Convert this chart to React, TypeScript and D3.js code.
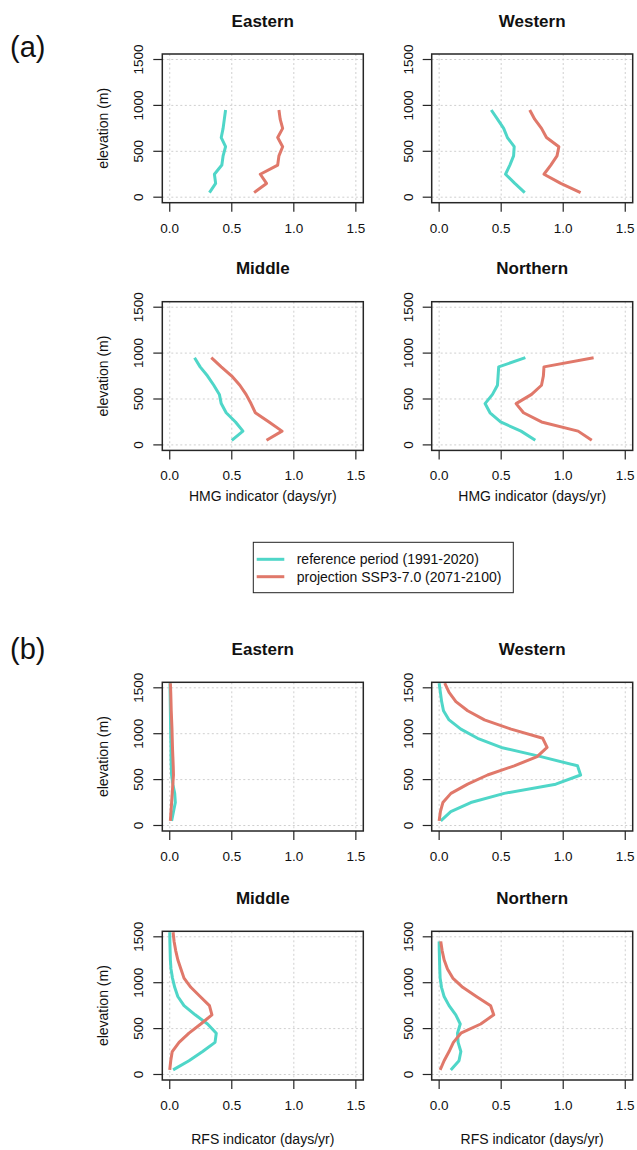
import React from "react";
import * as d3 from "d3";

// ---------- DATA ----------
const elevA = [50, 150, 250, 350, 450, 550, 650, 750, 850, 950];
const elevB = [50, 150, 250, 350, 450, 550, 650, 750, 850, 950, 1050, 1150, 1250, 1350, 1450, 1550];
const elevBNorth = [50, 150, 250, 350, 450, 550, 650, 750, 850, 950, 1050, 1150, 1250, 1350, 1450];

const regions = ["Eastern", "Western", "Middle", "Northern"];

// (a) HMG indicator (days/yr)
const hmgEasternRef = [0.32, 0.37, 0.36, 0.42, 0.43, 0.45, 0.415, 0.43, 0.44, 0.45];
const hmgEasternProj = [0.68, 0.78, 0.73, 0.87, 0.88, 0.91, 0.87, 0.91, 0.89, 0.88];
const hmgWesternRef = [0.69, 0.61, 0.535, 0.57, 0.6, 0.605, 0.55, 0.52, 0.47, 0.42];
const hmgWesternProj = [1.14, 0.98, 0.845, 0.9, 0.95, 0.965, 0.865, 0.825, 0.77, 0.73];
const hmgMiddleRef = [0.5, 0.59, 0.53, 0.455, 0.415, 0.4, 0.355, 0.305, 0.245, 0.2];
const hmgMiddleProj = [0.78, 0.905, 0.8, 0.69, 0.655, 0.615, 0.565, 0.5, 0.415, 0.335];
const hmgNorthernRef = [0.775, 0.66, 0.495, 0.41, 0.37, 0.43, 0.47, 0.475, 0.48, 0.695];
const hmgNorthernProj = [1.23, 1.12, 0.825, 0.68, 0.62, 0.745, 0.825, 0.84, 0.845, 1.245];

// (b) RFS indicator (days/yr)
const rfsEasternRef = [0.015, 0.03, 0.045, 0.04, 0.025, 0.015, 0.012, 0.01, 0.01, 0.008, 0.007, 0.006, 0.005, 0.004, 0.003, 0.002];
const rfsEasternProj = [0.005, 0.01, 0.015, 0.02, 0.025, 0.03, 0.028, 0.025, 0.022, 0.02, 0.018, 0.015, 0.012, 0.01, 0.008, 0.005];
const rfsWesternRef = [0.013, 0.094, 0.255, 0.525, 0.94, 1.14, 1.115, 0.82, 0.5, 0.31, 0.175, 0.08, 0.035, 0.02, 0.01, 0.0];
const rfsWesternProj = [0.0, 0.01, 0.03, 0.095, 0.23, 0.39, 0.605, 0.79, 0.87, 0.835, 0.58, 0.365, 0.23, 0.135, 0.08, 0.045];
const rfsMiddleRef = [0.027, 0.155, 0.265, 0.365, 0.375, 0.305, 0.205, 0.115, 0.065, 0.04, 0.022, 0.01, 0.005, 0.003, 0.001, 0.0];
const rfsMiddleProj = [0.0, 0.008, 0.02, 0.075, 0.155, 0.25, 0.34, 0.32, 0.245, 0.17, 0.115, 0.09, 0.065, 0.048, 0.035, 0.027];
const rfsNorthernRef = [0.094, 0.16, 0.175, 0.153, 0.148, 0.17, 0.134, 0.08, 0.04, 0.019, 0.008, 0.005, 0.003, 0.001, 0.0];
const rfsNorthernProj = [0.008, 0.04, 0.08, 0.115, 0.175, 0.335, 0.44, 0.415, 0.3, 0.19, 0.11, 0.067, 0.04, 0.024, 0.013];

const xTicks = [0, 0.5, 1.0, 1.5];
const yTicks = [0, 500, 1000, 1500];
const legendLabels = ["reference period (1991-2020)", "projection SSP3-7.0 (2071-2100)"];

// ---------- STYLE ----------
const REF_COLOR = "#4FD6C8";
const PROJ_COLOR = "#E0786A";
const FONT = "'Liberation Sans', Arial, Helvetica, sans-serif";

const colLeft = [162.3, 431.7];
const rowTop = [54, 301.7, 682.3, 931.3];
const PW = 201;
const PH = 148.7;

type PanelSpec = {
  title: string;
  col: number;
  row: number;
  elev: number[];
  ref: number[];
  proj: number[];
  refElev?: number[];
  xLabel?: string;
  xLabelOffset?: number;
  yLabel: boolean;
};

const panels: PanelSpec[] = [
  { title: regions[0], col: 0, row: 0, elev: elevA, ref: hmgEasternRef, proj: hmgEasternProj, yLabel: true },
  { title: regions[1], col: 1, row: 0, elev: elevA, ref: hmgWesternRef, proj: hmgWesternProj, yLabel: false },
  { title: regions[2], col: 0, row: 1, elev: elevA, ref: hmgMiddleRef, proj: hmgMiddleProj, yLabel: true, xLabel: "HMG indicator (days/yr)", xLabelOffset: 51 },
  { title: regions[3], col: 1, row: 1, elev: elevA, ref: hmgNorthernRef, proj: hmgNorthernProj, yLabel: false, xLabel: "HMG indicator (days/yr)", xLabelOffset: 51 },
  { title: regions[0], col: 0, row: 2, elev: elevB, ref: rfsEasternRef, proj: rfsEasternProj, yLabel: true },
  { title: regions[1], col: 1, row: 2, elev: elevB, ref: rfsWesternRef, proj: rfsWesternProj, yLabel: false },
  { title: regions[2], col: 0, row: 3, elev: elevB, ref: rfsMiddleRef, proj: rfsMiddleProj, yLabel: true, xLabel: "RFS indicator (days/yr)", xLabelOffset: 64 },
  { title: regions[3], col: 1, row: 3, elev: elevBNorth, ref: rfsNorthernRef, proj: rfsNorthernProj, yLabel: false, xLabel: "RFS indicator (days/yr)", xLabelOffset: 64 },
];

function Panel({ p }: { p: PanelSpec }) {
  const x0 = colLeft[p.col];
  const y0 = rowTop[p.row];
  const x = d3.scaleLinear().domain([-0.06, 1.56]).range([x0, x0 + PW]);
  const y = d3.scaleLinear().domain([-60, 1560]).range([y0 + PH, y0]);
  const line = (vals: number[], elev: number[]) =>
    d3.line<number>().x((v) => x(v)).y((_, i) => y(elev[i]))(vals) || "";

  return (
    <g>
      {/* grid */}
      {xTicks.map((t) => (
        <line key={"gx" + t} x1={x(t)} x2={x(t)} y1={y0} y2={y0 + PH} stroke="#cfcfcf" strokeWidth={1} strokeDasharray="2,2.5" />
      ))}
      {yTicks.map((t) => (
        <line key={"gy" + t} x1={x0} x2={x0 + PW} y1={y(t)} y2={y(t)} stroke="#cfcfcf" strokeWidth={1} strokeDasharray="2,2.5" />
      ))}
      {/* lines */}
      <path d={line(p.ref, p.elev)} fill="none" stroke={REF_COLOR} strokeWidth={3} strokeLinejoin="round" />
      <path d={line(p.proj, p.elev)} fill="none" stroke={PROJ_COLOR} strokeWidth={3} strokeLinejoin="round" />
      {/* box */}
      <rect x={x0} y={y0} width={PW} height={PH} fill="none" stroke="#262626" strokeWidth={1.5} />
      {/* x axis ticks */}
      {xTicks.map((t) => (
        <g key={"tx" + t}>
          <line x1={x(t)} x2={x(t)} y1={y0 + PH} y2={y0 + PH + 9} stroke="#262626" strokeWidth={1.2} />
          <text x={x(t)} y={y0 + PH + 30} textAnchor="middle" fontSize={13.5} fontFamily={FONT} fill="#111">
            {t.toFixed(1)}
          </text>
        </g>
      ))}
      {/* y axis ticks */}
      {yTicks.map((t) => (
        <g key={"ty" + t}>
          <line x1={x0 - 9} x2={x0} y1={y(t)} y2={y(t)} stroke="#262626" strokeWidth={1.2} />
          <text
            transform={`translate(${x0 - 19},${y(t)}) rotate(-90)`}
            textAnchor="middle"
            fontSize={13.5}
            fontFamily={FONT}
            fill="#111"
          >
            {t}
          </text>
        </g>
      ))}
      {/* title */}
      <text x={x0 + PW / 2} y={y0 - 27.5} textAnchor="middle" fontSize={17} fontWeight="bold" fontFamily={FONT} fill="#111">
        {p.title}
      </text>
      {p.yLabel && (
        <text
          transform={`translate(${x0 - 54},${y0 + PH / 2}) rotate(-90)`}
          textAnchor="middle"
          fontSize={14}
          fontFamily={FONT}
          fill="#111"
        >
          elevation (m)
        </text>
      )}
      {p.xLabel && (
        <text x={x0 + PW / 2} y={y0 + PH + (p.xLabelOffset || 51)} textAnchor="middle" fontSize={14} fontFamily={FONT} fill="#111">
          {p.xLabel}
        </text>
      )}
    </g>
  );
}

export default function App() {
  return (
    <svg
      width={637}
      height={1150}
      viewBox="0 0 637 1150"
      style={{ position: "absolute", left: 0, top: 0, background: "#fff" }}
    >
      <rect x={0} y={0} width={637} height={1150} fill="#fff" />
      <text x={10} y={57} fontSize={29} fontFamily={FONT} fill="#111">(a)</text>
      <text x={10} y={659} fontSize={29} fontFamily={FONT} fill="#111">(b)</text>
      {panels.map((p, i) => (
        <Panel key={i} p={p} />
      ))}
      {/* legend */}
      <g>
        <rect x={253.3} y={542.3} width={260} height={50.4} fill="#fff" stroke="#222" strokeWidth={1} />
        {legendLabels.map((lab, i) => (
          <g key={lab}>
            <line x1={256.7} x2={284.3} y1={559.3 + i * 17.4} y2={559.3 + i * 17.4} stroke={i === 0 ? REF_COLOR : PROJ_COLOR} strokeWidth={3} />
            <text x={296.7} y={564.3 + i * 17.4} fontSize={14} fontFamily={FONT} fill="#111">
              {lab}
            </text>
          </g>
        ))}
      </g>
    </svg>
  );
}
